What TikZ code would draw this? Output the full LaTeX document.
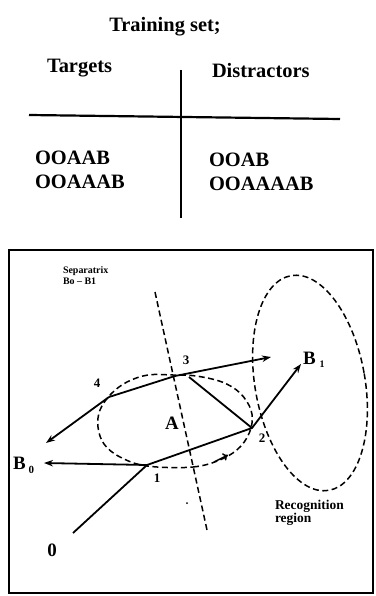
\documentclass[tikz,border=0pt]{standalone}
\usepackage{fontspec}
\setmainfont{Liberation Serif}
\usetikzlibrary{arrows.meta}
\begin{document}
\begin{tikzpicture}[x=1bp,y=-1bp,
  every node/.style={inner sep=0pt, outer sep=0pt},
  big/.style={font=\fontsize{20.5}{22}\selectfont\bfseries, anchor=base west},
  small/.style={font=\fontsize{10}{11}\selectfont\bfseries, align=left, anchor=north west},
  num/.style={font=\fontsize{13}{14}\selectfont\bfseries},
  lab/.style={font=\fontsize{19}{20}\selectfont\bfseries},
  rule/.style={line width=2.2bp},
  traj/.style={line width=1.8bp},
  arr/.style={traj, -{Stealth[length=9bp,width=6.5bp]}},
  dsh/.style={line width=1.5bp, dash pattern=on 6bp off 3.5bp},
]
\useasboundingbox (0,0) rectangle (375,596);
\fill[white] (0,0) rectangle (375,596);

% ---- table ----
\node[big, anchor=base] (title) at (165,32) {Training set;};
\node[big] (tg) at (47,73) {Targets};
\node[big] (ds) at (212,78) {Distractors};
\node[big] (t1) at (35,165) {OOAAB};
\node[big] (t2) at (35,188) {OOAAAB};
\node[big] (d1) at (209,167) {OOAB};
\node[big] (d2) at (209,190) {OOAAAAB};
\coordinate (vt) at (181,70);
\coordinate (vb) at (181,218);
\coordinate (hl) at (29,115);
\coordinate (hr) at (340,119);
\draw[rule] (vt) -- (vb);
\draw[rule] (hl) -- (hr);

% ---- frame ----
\draw[line width=2bp] (9,250) rectangle (373,593);

% ---- separatrix and recognition region ----
\node[small] (sep) at (63,267) {Separatrix\\Bo -- B1};
\coordinate (st) at (155,292);
\coordinate (sb) at (207,530);
\draw[dsh] (st) -- (sb);
\draw[dsh, rotate around={10:(310,383)}] (310,383) ellipse [x radius=55, y radius=109];
\node[small, font=\fontsize{13.5}{13.5}\selectfont\bfseries] (rec) at (275,500) {Recognition\\region};

% ---- dashed attractor loop ----
\draw[dsh] plot[smooth cycle, tension=0.6] coordinates {(147,466) (193,467) (222,459) (241,446) (251,428) (251,410) (240,393) (222,382) (196,376) (173,375) (148,375) (127,382) (111,394) (100,410) (98,427) (104,444) (120,457)};
\coordinate (m1a) at (214,462);
\coordinate (m1b) at (228,455);
\draw[line width=1.5bp, -{To[length=5bp,width=8bp]}] (m1a) -- (m1b);

% ---- trajectory ----
\coordinate (o) at (73,533);
\coordinate (p1) at (147,465);
\coordinate (p2) at (252,428);
\coordinate (p3) at (175,376);
\coordinate (q3) at (189,377);
\coordinate (p4) at (109,397);
\coordinate (e0) at (44,463);
\coordinate (e1) at (271,357);
\coordinate (e2) at (301,364);
\coordinate (e4) at (46,443);
\draw[traj, line join=round] (o) -- (p1) -- (p2) -- (q3);
\draw[arr] (p1) -- (e0);
\draw[arr] (p2) -- (e2);
\draw[arr, line join=round] (p4) -- (p3) -- (e1);
\draw[arr] (p4) -- (e4);

% ---- labels ----
\node[num] (l3) at (186,360) {3};
\node[num] (l4) at (97,383) {4};
\node[num] (l2) at (262,438) {2};
\node[num] (l1) at (157,478) {1};
\node[lab] (la) at (172,423) {A};
\node[lab, anchor=base west] (b1) at (303,364) {B\kern4bp\raisebox{-3bp}{\fontsize{10}{10}\selectfont 1}};
\node[lab, anchor=base west] (b0) at (13,469) {B\kern3bp\raisebox{-4bp}{\fontsize{11}{11}\selectfont 0}};
\node[lab] (z) at (52,550) {0};
\fill (187,503) circle (1bp);
\end{tikzpicture}
\end{document}
